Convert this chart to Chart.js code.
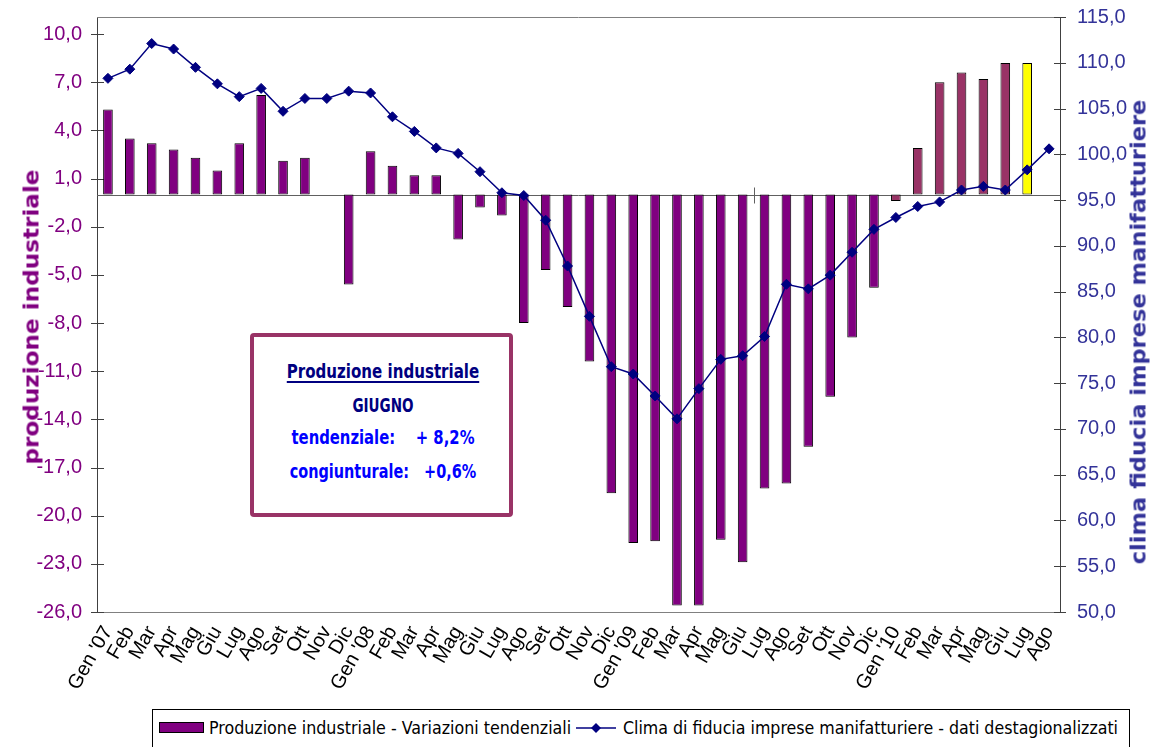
<!DOCTYPE html>
<html>
<head>
<meta charset="utf-8">
<script src="https://cdn.jsdelivr.net/npm/chart.js@4.4.0/dist/chart.umd.min.js"></script>
<style>
  html, body { margin: 0; padding: 0; background: #fff; overflow: hidden; }
  #wrap { position: relative; width: 1153px; height: 747px; }
  #chart { position: absolute; left: 0; top: 0; }
  .vtitle { position: absolute; white-space: nowrap; font-family: "DejaVu Sans"; font-weight: bold; font-size: 21px; line-height: 21px; }
  #box { position: absolute; left: 250px; top: 333px; width: 263px; height: 184px; box-sizing: border-box;
         border: 4px solid #993366; border-radius: 4px; background: #fff; }
  .bl { position: absolute; white-space: pre; font-family: "DejaVu Sans Condensed", "DejaVu Sans"; font-weight: bold;
        font-size: 19px; line-height: 19px; }
  #legend { position: absolute; left: 152px; top: 709px; width: 978px; height: 60px; box-sizing: border-box;
            border: 1px solid #000; background: #fff; }
  .lt { position: absolute; top: 10px; white-space: nowrap; font-family: "DejaVu Sans Condensed", "DejaVu Sans";
        font-size: 17px; line-height: 17px; color: #000; transform-origin: left center; }
</style>
</head>
<body>
<div id="wrap">
  <canvas id="chart" width="1153" height="747"></canvas>

  <div class="vtitle" id="t1" style="left:32px; top:317px; color:#800080" data-w="295" data-t="translate(-50%,-50%) rotate(-90deg)">produzione industriale</div>
  <div class="vtitle" id="t2" style="left:1139px; top:332px; color:#333399" data-w="465" data-t="translate(-50%,-50%) rotate(-90deg)">clima fiducia imprese manifatturiere</div>

  <div id="box">
    <div class="bl" style="left:129px; top:25px; color:#000080; text-decoration:underline; text-decoration-thickness:2px; text-underline-offset:3px" data-w="192" data-t="translate(-50%,0)">Produzione industriale</div>
    <div class="bl" style="left:129px; top:59px; color:#000080" data-w="61" data-t="translate(-50%,0)">GIUGNO</div>
    <div class="bl" style="left:129px; top:91px; color:#0000FF" data-w="183" data-t="translate(-50%,0)">tendenziale:    + 8,2%</div>
    <div class="bl" style="left:129px; top:125px; color:#0000FF" data-w="187" data-t="translate(-50%,0)">congiunturale:   +0,6%</div>
  </div>

  <div id="legend">
    <div style="position:absolute; left:6px; top:12px; width:45px; height:11px; box-sizing:border-box; background:#800080; border:1px solid #000"></div>
    <div class="lt" style="left:56px" data-w="362" data-t="">Produzione industriale - Variazioni tendenziali</div>
    <svg style="position:absolute; left:422px; top:8px" width="42" height="20">
      <line x1="1" y1="10" x2="41" y2="10" stroke="#000080" stroke-width="1.5"/>
      <polygon points="21,5 26,10 21,15 16,10" fill="#000080"/>
    </svg>
    <div class="lt" style="left:470px" data-w="495" data-t="">Clima di fiducia imprese manifatturiere - dati destagionalizzati</div>
  </div>
</div>

<script>
const labels = [
  "Gen '07", 'Feb', 'Mar', 'Apr', 'Mag', 'Giu', 'Lug', 'Ago', 'Set', 'Ott', 'Nov', 'Dic',
  "Gen '08", 'Feb', 'Mar', 'Apr', 'Mag', 'Giu', 'Lug', 'Ago', 'Set', 'Ott', 'Nov', 'Dic',
  "Gen '09", 'Feb', 'Mar', 'Apr', 'Mag', 'Giu', 'Lug', 'Ago', 'Set', 'Ott', 'Nov', 'Dic',
  "Gen '10", 'Feb', 'Mar', 'Apr', 'Mag', 'Giu', 'Lug', 'Ago'
];

// produzione industriale - variazioni tendenziali (%)
const produzione = [
  5.3, 3.5, 3.2, 2.8, 2.3, 1.5, 3.2, 6.2, 2.1, 2.3, null, -5.6,
  2.7, 1.8, 1.2, 1.2, -2.8, -0.8, -1.3, -8.0, -4.7, -7.0, -10.4, -18.6,
  -21.7, -21.6, -25.6, -25.6, -21.5, -22.9, -18.3, -18.0, -15.7, -12.6, -8.9, -5.8,
  -0.4, 2.9, 7.0, 7.6, 7.2, 8.2, 8.2, null
];

// clima di fiducia imprese manifatturiere (destagionalizzato)
const clima = [
  108.3, 109.3, 112.1, 111.5, 109.5, 107.7, 106.3, 107.2, 104.7, 106.1, 106.1, 106.9,
  106.7, 104.1, 102.5, 100.7, 100.1, 98.1, 95.8, 95.5, 92.8, 87.8, 82.3, 76.8,
  76.0, 73.6, 71.1, 74.4, 77.6, 78.0, 80.1, 85.8, 85.3, 86.8, 89.3, 91.8,
  93.1, 94.3, 94.8, 96.1, 96.5, 96.1, 98.3, 100.6
];

const leftTicks = [-26, -23, -20, -17, -14, -11, -8, -5, -2, 1, 4, 7, 10];
const rightTicks = [50, 55, 60, 65, 70, 75, 80, 85, 90, 95, 100, 105, 110, 115];

const barColors = produzione.map((v, i) => i === 42 ? '#FFFF00' : (i >= 36 ? '#993366' : '#800080'));

const fmt = v => v.toFixed(1).replace('.', ',');

// plot frame, zero line and crossing tick marks
const frame = {
  id: 'frame',
  beforeDatasetsDraw(chart) {
    const { ctx, chartArea: a, scales } = chart;
    ctx.save();
    ctx.lineWidth = 1;
    ctx.strokeStyle = '#808080';
    ctx.beginPath();
    ctx.moveTo(a.left, a.top + 0.5);
    ctx.lineTo(a.right, a.top + 0.5);
    ctx.stroke();

    const z = Math.round(scales.y.getPixelForValue(0)) + 0.5;
    ctx.strokeStyle = '#606060';
    ctx.beginPath();
    ctx.moveTo(a.left, z);
    ctx.lineTo(a.right, z);
    const bx = Math.round((scales.x.getPixelForValue(29) + scales.x.getPixelForValue(30)) / 2) + 0.5;
    ctx.moveTo(bx, z - 8);
    ctx.lineTo(bx, z + 8);
    ctx.stroke();

    ctx.strokeStyle = '#404040';
    ctx.beginPath();
    leftTicks.forEach(t => {
      const p = Math.round(scales.y.getPixelForValue(t)) + 0.5;
      ctx.moveTo(a.left - 6, p);
      ctx.lineTo(a.left + 7, p);
    });
    rightTicks.forEach(t => {
      const p = Math.round(scales.y2.getPixelForValue(t)) + 0.5;
      ctx.moveTo(a.right - 6, p);
      ctx.lineTo(a.right + 6, p);
    });
    ctx.stroke();
    ctx.restore();
  }
};

new Chart(document.getElementById('chart'), {
  data: {
    labels: labels,
    datasets: [
      {
        type: 'bar',
        label: 'Produzione industriale - Variazioni tendenziali',
        data: produzione,
        yAxisID: 'y',
        backgroundColor: barColors,
        borderColor: '#000',
        borderWidth: 1,
        borderSkipped: false,
        categoryPercentage: 1,
        barPercentage: 0.44,
        order: 1
      },
      {
        type: 'line',
        label: 'Clima di fiducia imprese manifatturiere - dati destagionalizzati',
        data: clima,
        yAxisID: 'y2',
        borderColor: '#000080',
        borderWidth: 1.5,
        tension: 0,
        pointStyle: 'rectRot',
        pointRadius: 5,
        pointBackgroundColor: '#000080',
        pointBorderColor: '#000080',
        pointBorderWidth: 1,
        order: 0
      }
    ]
  },
  options: {
    responsive: false,
    animation: false,
    devicePixelRatio: 1,
    layout: { padding: { top: 17, left: 0, right: 0, bottom: 0 } },
    plugins: {
      legend: { display: false },
      tooltip: { enabled: false }
    },
    scales: {
      x: {
        offset: true,
        grid: { display: false },
        border: { color: '#808080' },
        ticks: {
          autoSkip: false,
          maxRotation: 60,
          minRotation: 60,
          padding: 2,
          color: '#000',
          font: { family: 'Liberation Sans', size: 20 }
        },
        afterFit: s => { s.height = 135; s.paddingLeft = 0; s.paddingRight = 0; }
      },
      y: {
        position: 'left',
        min: -26,
        max: 11.06,
        afterBuildTicks: s => { s.ticks = leftTicks.map(v => ({ value: v })); },
        grid: { display: false, drawTicks: false },
        border: { color: '#404040' },
        ticks: {
          padding: 15,
          color: '#800080',
          font: { family: 'Liberation Sans', size: 20 },
          callback: v => fmt(v)
        },
        afterFit: s => { s.width = 97; s.paddingTop = 0; s.paddingBottom = 0; }
      },
      y2: {
        position: 'right',
        min: 50,
        max: 115,
        afterBuildTicks: s => { s.ticks = rightTicks.map(v => ({ value: v })); },
        grid: { display: false, drawTicks: false },
        border: { color: '#404040' },
        ticks: {
          padding: 17,
          color: '#333399',
          font: { family: 'Liberation Sans', size: 20 },
          callback: v => fmt(v)
        },
        afterFit: s => { s.width = 93; s.paddingTop = 0; s.paddingBottom = 0; }
      }
    }
  },
  plugins: [frame]
});

// squeeze the html texts to the widths seen in the picture
document.querySelectorAll('[data-w]').forEach(el => {
  const k = +el.dataset.w / el.offsetWidth;
  el.style.transform = el.dataset.t + ' scaleX(' + k.toFixed(3) + ')';
});
</script>
</body>
</html>
